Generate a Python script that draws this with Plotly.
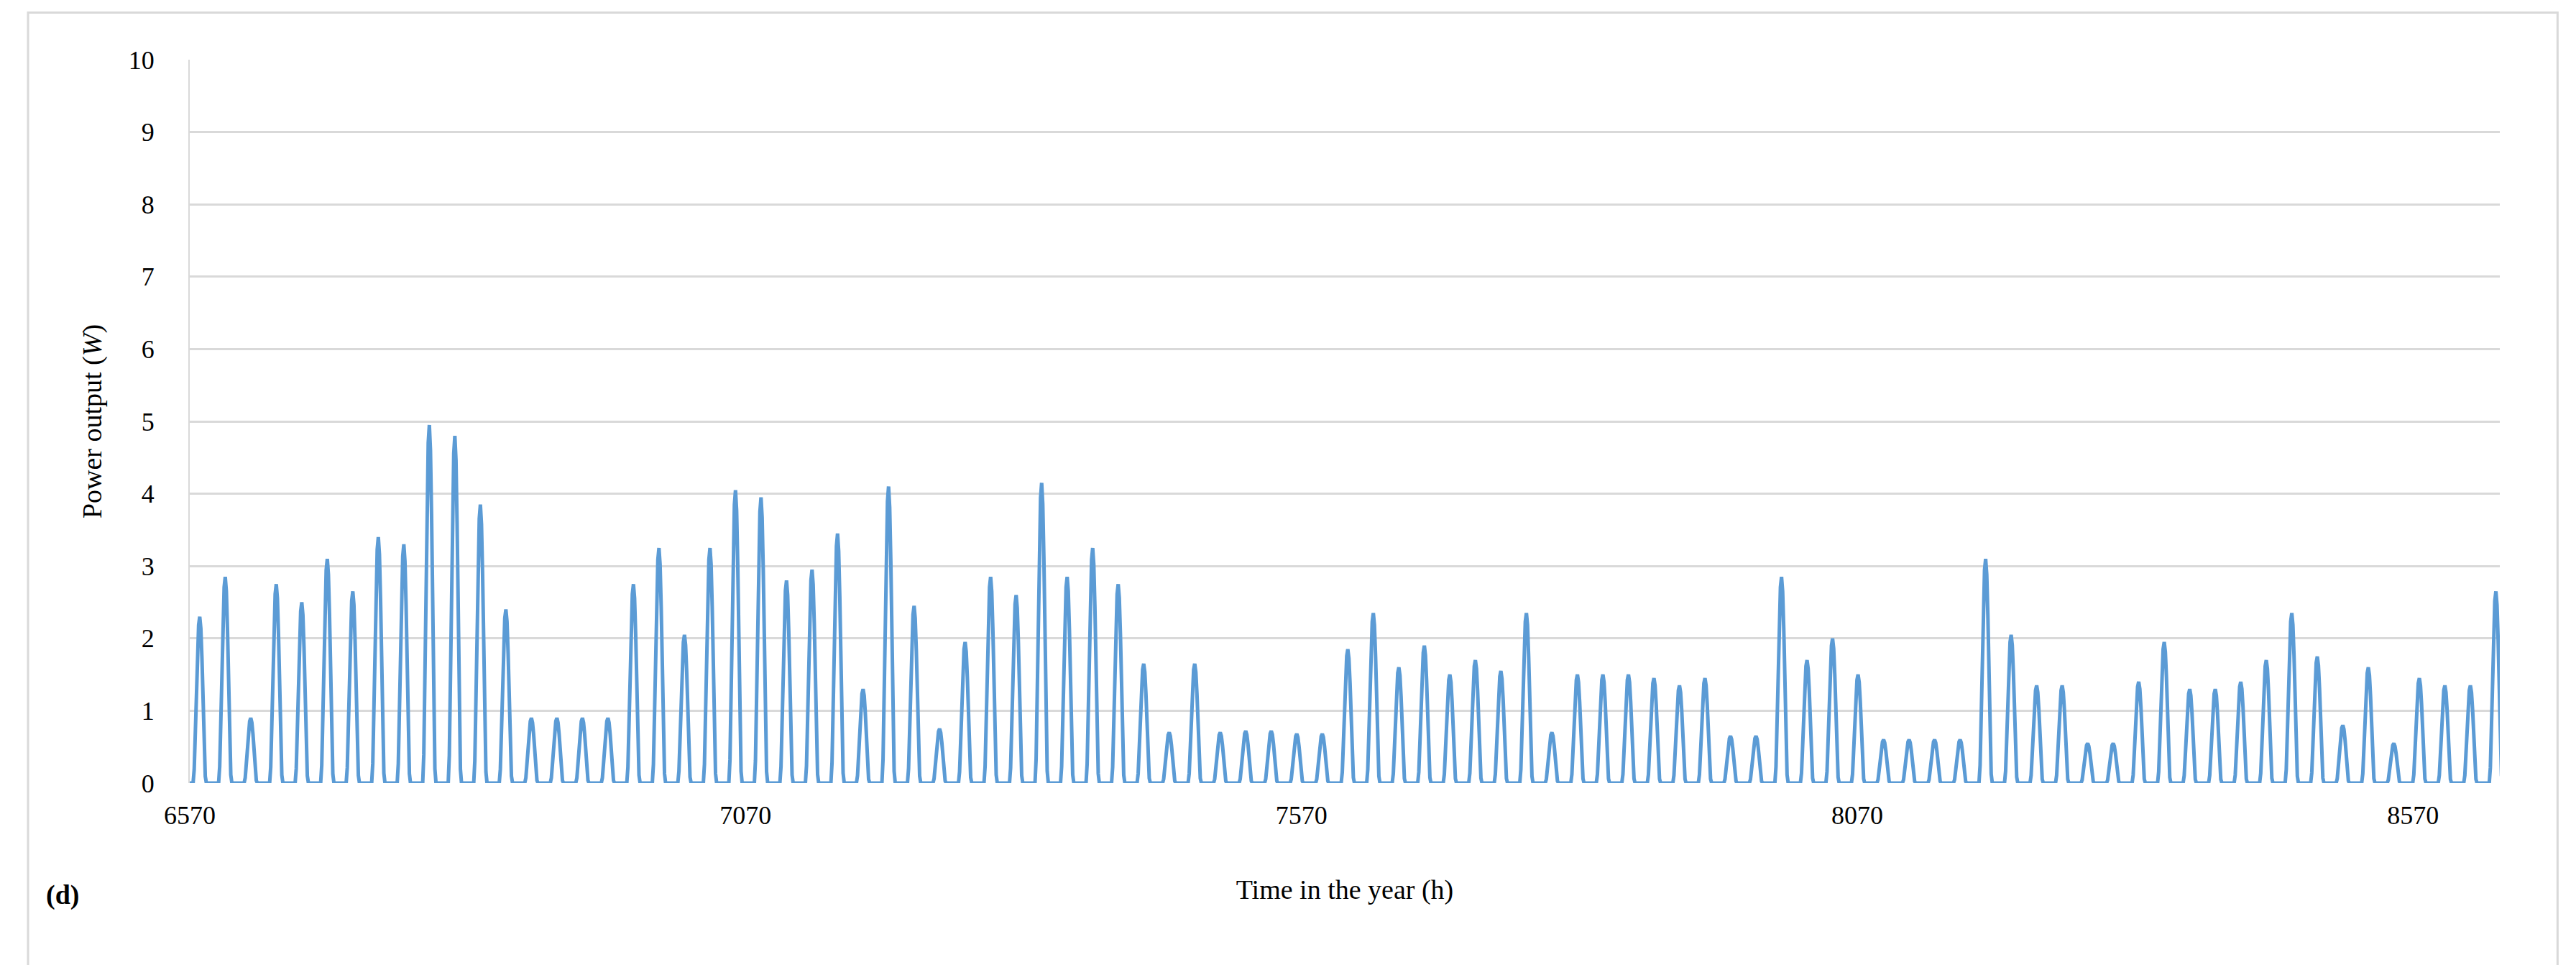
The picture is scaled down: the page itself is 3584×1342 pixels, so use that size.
import plotly.graph_objects as go

# daily peak power output (W), one value per day
daily_peaks = [
    2.3, 2.85, 0.9, 2.75, 2.5, 3.1, 2.65, 3.4, 3.3, 4.95,
    4.8, 3.85, 2.4, 0.9, 0.9, 0.9, 0.9, 2.75, 3.25, 2.05,
    3.25, 4.05, 3.95, 2.8, 2.95, 3.45, 1.3, 4.1, 2.45, 0.75,
    1.95, 2.85, 2.6, 4.15, 2.85, 3.25, 2.75, 1.65, 0.7, 1.65,
    0.7, 0.72, 0.72, 0.68, 0.68, 1.85, 2.35, 1.6, 1.9, 1.5,
    1.7, 1.55, 2.35, 0.7, 1.5, 1.5, 1.5, 1.45, 1.35, 1.45,
    0.65, 0.65, 2.85, 1.7, 2.0, 1.5, 0.6, 0.6, 0.6, 0.6,
    3.1, 2.05, 1.35, 1.35, 0.55, 0.55, 1.4, 1.95, 1.3, 1.3,
    1.4, 1.7, 2.35, 1.75, 0.8, 1.6, 0.55, 1.45, 1.35, 1.35,
    2.65,
]
# relative shape of one day (fraction of the peak)
day_shape = [0, 0, 0, 0, 0.08, 0.3, 0.55, 0.8, 0.95, 1.0, 0.93, 0.75, 0.5, 0.22, 0.04, 0, 0, 0, 0, 0, 0, 0, 0]
start_hour = 6570
step = 22.95 / len(day_shape)

x, y = [], []
for d, peak in enumerate(daily_peaks):
    for k, f in enumerate(day_shape):
        x.append(start_hour + (d * len(day_shape) + k) * step)
        y.append(peak * f)

fig = go.Figure()
fig.add_trace(go.Scatter(x=x, y=y, mode='lines', line=dict(color='#5B9BD5', width=5)))

fig.update_layout(
    width=3584, height=1342,
    plot_bgcolor='white', paper_bgcolor='white',
    margin=dict(l=256, r=114, t=75, b=261),
    font=dict(family='Liberation Serif', size=36, color='black'),
    showlegend=False,
    xaxis=dict(
        range=[6570, 8648], tickvals=[6570, 7070, 7570, 8070, 8570],
        showgrid=False, zeroline=False, ticks='', showline=False, ticklabelstandoff=20,
        title=dict(text='Time in the year (h)', font=dict(size=38), standoff=70),
    ),
    yaxis=dict(
        range=[0, 10], dtick=1, gridcolor='#D9D9D9', gridwidth=3,
        zeroline=False, showline=True, linecolor='#D9D9D9', linewidth=2, ticklabelstandoff=40,
        title=dict(text='Power output (<i>W</i>)', font=dict(size=38), standoff=25),
    ),
    shapes=[dict(type='rect', xref='paper', yref='paper', x0=-0.07, x1=1.025, y0=-0.255, y1=1.065,
                 line=dict(color='#D9D9D9', width=3))],
    annotations=[dict(text='<b>(d)</b>', xref='paper', yref='paper', x=-0.063, y=-0.155,
                      showarrow=False, xanchor='left', yanchor='middle', font=dict(size=38))],
)

fig.write_html("out.html")
